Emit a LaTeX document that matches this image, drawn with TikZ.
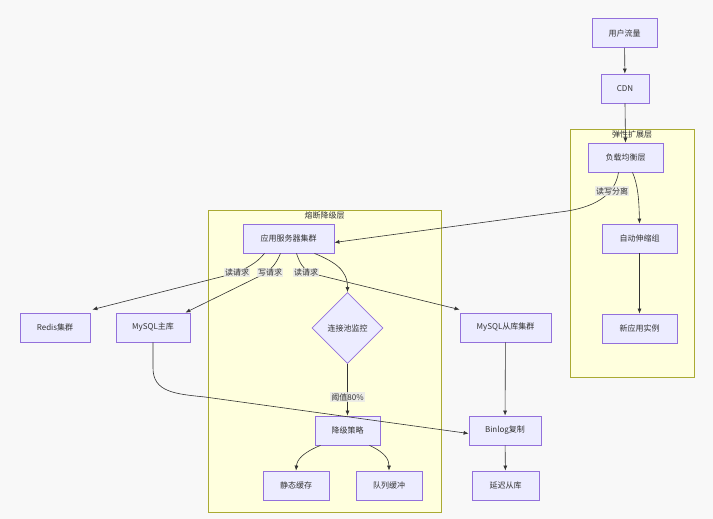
\documentclass[tikz,border=0pt]{standalone}
\usepackage{fontspec}
\setmainfont{Noto Sans CJK SC}
\usetikzlibrary{arrows.meta,shapes.geometric}
\definecolor{nodefill}{HTML}{ECECFF}
\definecolor{nodeline}{HTML}{9370DB}
\definecolor{clfill}{HTML}{FFFFDE}
\definecolor{clline}{HTML}{AAAA33}
\definecolor{edgecol}{HTML}{333333}
\definecolor{bgcol}{HTML}{F8F8F8}
\definecolor{lblbg}{HTML}{E8E8E8}
\begin{document}
\begin{tikzpicture}[x=1pt,y=-1pt,
  box/.style={draw=nodeline, fill=nodefill, line width=0.8pt, minimum height=29pt, inner sep=0pt, font=\fontsize{8}{9}\selectfont, text=edgecol},
  cluster/.style={draw=clline, fill=clfill, line width=0.8pt, inner sep=0pt},
  cltitle/.style={inner sep=1pt, font=\fontsize{8}{9}\selectfont, text=edgecol},
  conn/.style={draw=edgecol, line width=0.6pt, -{Latex[length=5pt,width=4pt]}},
  elabel/.style={fill=lblbg, fill opacity=0.8, text opacity=1, text=edgecol, inner sep=1pt, font=\fontsize{8}{9}\selectfont}
]
\path[fill=bgcol] (0,0) rectangle (713,519);
\useasboundingbox (0,0) rectangle (713,519);

% clusters
\node[cluster, minimum width=124pt, minimum height=248pt] (c1) at (632,253) {};
\node[cltitle, anchor=north] (c1t) at (632,130) {弹性扩展层};
\node[cluster, minimum width=233pt, minimum height=302pt] (c2) at (324.5,361) {};
\node[cltitle, anchor=north] (c2t) at (324.5,211) {熔断降级层};

% nodes
\node[box, minimum width=65pt] (user) at (624.5,33) {用户流量};
\node[box, minimum width=48pt] (cdn) at (625,88.5) {CDN};
\node[box, minimum width=75pt] (lb) at (625.5,157.5) {负载均衡层};
\node[box, minimum width=75pt] (asg) at (639.5,238.5) {自动伸缩组};
\node[box, minimum width=75pt] (inst) at (639.5,328.5) {新应用实例};
\node[box, minimum width=91pt] (app) at (288.5,238.5) {应用服务器集群};
\node[diamond, draw=nodeline, fill=nodefill, line width=0.8pt, minimum width=71pt, minimum height=71pt, inner sep=0pt] (mon) at (347.5,328) {};
\node[font=\fontsize{8}{9}\selectfont, text=edgecol] (monl) at (mon) {连接池监控};
\node[box, minimum width=65pt] (deg) at (347.5,430.5) {降级策略};
\node[box, minimum width=66pt] (sc) at (296,485.5) {静态缓存};
\node[box, minimum width=66pt] (qb) at (389,485.5) {队列缓冲};
\node[box, minimum width=70pt] (redis) at (55,327.5) {Redis集群};
\node[box, minimum width=74pt] (master) at (153,327.5) {MySQL主库};
\node[box, minimum width=91pt] (slave) at (505.5,327.5) {MySQL从库集群};
\node[box, minimum width=72pt] (binlog) at (505,430.5) {Binlog复制};
\node[box, minimum width=67pt] (delay) at (505.5,485.5) {延迟从库};

% edges
\draw[conn] (user) -- (cdn);
\draw[conn] (cdn.south) -- (lb.north);
\draw[conn] ([xshift=-7pt]lb.south) .. controls (615,195) and (595,208) .. (560,212) -- ([yshift=-4pt]app.east);
\node[elabel] (l1) at (612,191) {读写分离};
\draw[conn] ([xshift=7pt]lb.south) .. controls (638,185) and (639,200) .. (asg.north);
\draw[conn] (asg) -- (inst);

\draw[conn] ([xshift=-24pt]app.south) .. controls (256,264) and (246,268) .. (236,273) -- ([xshift=2pt,yshift=3pt]redis.north east);
\node[elabel] (l2) at (237,272.5) {读请求};
\draw[conn] ([xshift=-8pt]app.south) .. controls (276,264) and (272,268) .. (266,273) -- ([xshift=-5pt]master.north east);
\node[elabel] (l3) at (270,272.5) {写请求};
\draw[conn] ([xshift=8pt]app.south) .. controls (300,264) and (303,268) .. (310,273) -- ([yshift=3pt]slave.north west);
\node[elabel] (l4) at (306,272.5) {读请求};
\draw[conn] ([xshift=26pt]app.south) .. controls (335,262) and (347.5,270) .. (mon.north);

\draw[conn] (mon.south) -- (deg.north);
\node[elabel] (l5) at (347.5,397) {阈值80\%};
\draw[conn] ([xshift=-27pt]deg.south) .. controls (302,453) and (297,460) .. (sc.north);
\draw[conn] ([xshift=22pt]deg.south) .. controls (386,453) and (389,460) .. (qb.north);

\draw[conn] (master.south) -- (153,368) .. controls (153,392) and (175,394) .. (205,397) -- ([yshift=-3pt]binlog.west);
\draw[conn] (slave) -- (binlog);
\draw[conn] (binlog) -- (delay);
\end{tikzpicture}
\end{document}
